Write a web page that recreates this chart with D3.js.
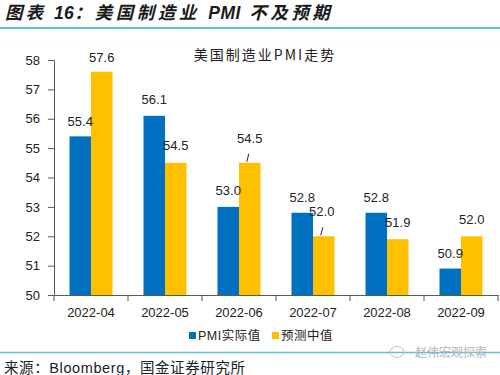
<!DOCTYPE html>
<html>
<head>
<meta charset="utf-8">
<script src="https://cdn.jsdelivr.net/npm/d3@7"></script>
<style>
  body { margin: 0; background: #fff; }
  svg { display: block; font-family: "Liberation Sans", Arial, sans-serif; }
</style>
</head>
<body>
<div id="chart"></div>
<script>
// data
const months = ["2022-04", "2022-05", "2022-06", "2022-07", "2022-08", "2022-09"];
const actual = [55.4, 56.1, 53.0, 52.8, 52.8, 50.9];
const forecast = [57.6, 54.5, 54.5, 52.0, 51.9, 52.0];
const seriesNames = ["PMI实际值", "预测中值"];
const yTicks = [50, 51, 52, 53, 54, 55, 56, 57, 58];

const colors = ["#0070C0", "#FFC000"];

const W = 500, H = 375;
const margin = {left: 54, right: 2, top: 60, bottom: 80};

const svg = d3.select("#chart").append("svg")
    .attr("width", W)
    .attr("height", H);

// header (CJK parts spaced wider than the latin parts)
const header = svg.append("text")
    .attr("x", 5).attr("y", 19)
    .attr("font-size", 17.5).attr("font-weight", "bold").attr("font-style", "italic")
    .attr("fill", "#1a1a1a")
    .style("font-family", "'Liberation Sans', 'Noto Sans CJK SC', sans-serif");
[["图表 ", 3], ["16", 0.5], ["：", 3], ["美国制造业 ", 3.5], ["PMI", 0.5], [" 不及预期", 3.5]]
    .forEach(([t, ls]) => header.append("tspan").attr("letter-spacing", ls).text(t));

svg.append("line")
    .attr("x1", 0).attr("x2", W).attr("y1", 28).attr("y2", 28)
    .attr("stroke", "#5BC3DD").attr("stroke-width", 2);

svg.append("line")
    .attr("x1", 0).attr("x2", W).attr("y1", 352.5).attr("y2", 352.5)
    .attr("stroke", "#5BC3DD").attr("stroke-width", 1.5);

svg.append("text")
    .attr("x", 4).attr("y", 373)
    .attr("font-size", 14.5).attr("fill", "#222")
    .attr("letter-spacing", 0.6)
    .style("font-family", "'Liberation Sans', 'Noto Sans CJK SC', sans-serif")
    .text("来源：Bloomberg，国金证券研究所");

// watermark
svg.append("text")
    .attr("x", 487).attr("y", 357)
    .attr("text-anchor", "end")
    .attr("font-size", 12).attr("fill", "#b5b5b5")
    .style("font-family", "'Noto Sans CJK SC', sans-serif")
    .text("赵伟宏观探索");
svg.append("ellipse")
    .attr("cx", 397).attr("cy", 352).attr("rx", 7).attr("ry", 5.5)
    .attr("fill", "none").attr("stroke", "#c4c4c4").attr("stroke-width", 1);

// scales
const x = d3.scaleBand()
    .domain(months)
    .range([margin.left, 498])
    .paddingInner(0).paddingOuter(0);

const y = d3.scaleLinear()
    .domain([50, 58])
    .range([295, 60]);

const barW = 21.5;

// chart title
svg.append("text")
    .attr("x", 265).attr("y", 60)
    .attr("text-anchor", "middle")
    .attr("font-size", 14).attr("fill", "#222")
    .attr("letter-spacing", 2)
    .style("font-family", "'Noto Sans CJK SC', sans-serif")
    .text("美国制造业PMI走势");

// y axis
const yAxis = d3.axisLeft(y).tickValues(yTicks).tickSize(6).tickPadding(8);
const gy = svg.append("g")
    .attr("transform", `translate(${margin.left},0)`)
    .call(yAxis);
gy.select(".domain").attr("stroke", "#595959");
gy.selectAll(".tick line").attr("stroke", "#595959");
gy.selectAll(".tick text")
    .attr("font-size", 13).attr("fill", "#222");

// bars
const series = [actual, forecast];
series.forEach((vals, s) => {
    svg.append("g").selectAll("rect")
        .data(vals)
        .join("rect")
        .attr("x", (d, i) => x(months[i]) + x.bandwidth() / 2 - barW + s * barW)
        .attr("y", d => y(d))
        .attr("width", barW)
        .attr("height", d => y(50) - y(d))
        .attr("fill", colors[s]);
});

// x axis
const xAxis = d3.axisBottom(x).tickSize(0).tickPadding(13);
const gx = svg.append("g")
    .attr("transform", `translate(0,${y(50)})`)
    .call(xAxis);
gx.select(".domain").attr("stroke", "#595959");
gx.selectAll(".tick text").attr("font-size", 13).attr("fill", "#222");
// category separator ticks
gx.selectAll(".sep")
    .data(months.concat(["end"]))
    .join("line")
    .attr("class", "sep")
    .attr("x1", (d, i) => margin.left + i * x.bandwidth())
    .attr("x2", (d, i) => margin.left + i * x.bandwidth())
    .attr("y1", 0).attr("y2", 6)
    .attr("stroke", "#595959");

// value labels, nudged as in the original
const labelShift = [
    [[0, 0], [0, -2], [0, -2], [0, -1], [0, -1], [0, -1]],
    [[0, 0], [0, -3], [0, -10], [-2, -10], [0, -2], [0, -2]]
];
series.forEach((vals, s) => {
    svg.append("g").selectAll("text")
        .data(vals)
        .join("text")
        .attr("x", (d, i) => x(months[i]) + x.bandwidth() / 2 - barW / 2 + s * barW + labelShift[s][i][0])
        .attr("y", (d, i) => y(d) - 10 + labelShift[s][i][1])
        .attr("text-anchor", "middle")
        .attr("font-size", 13).attr("fill", "#222")
        .text(d => d.toFixed(1));
});

// leader lines for the two shifted labels
[[2, 1], [3, 1]].forEach(([i, s]) => {
    const cx = x(months[i]) + x.bandwidth() / 2 - barW / 2 + s * barW;
    const top = y(series[s][i]);
    svg.append("line")
        .attr("x1", cx - 3).attr("x2", cx - 1)
        .attr("y1", top - 1).attr("y2", top - 9)
        .attr("stroke", "#222").attr("stroke-width", 1);
});

// legend
const legend = svg.append("g").attr("transform", "translate(189,336)");
const legX = [0, 83];
seriesNames.forEach((name, s) => {
    legend.append("rect")
        .attr("x", legX[s]).attr("y", -4)
        .attr("width", 7).attr("height", 7)
        .attr("fill", colors[s]);
    legend.append("text")
        .attr("x", legX[s] + 9).attr("y", 4)
        .attr("font-size", 12.5).attr("fill", "#222")
        .attr("letter-spacing", 0.5)
        .style("font-family", "'Liberation Sans', 'Noto Sans CJK SC', sans-serif")
        .text(name);
});
</script>
</body>
</html>
